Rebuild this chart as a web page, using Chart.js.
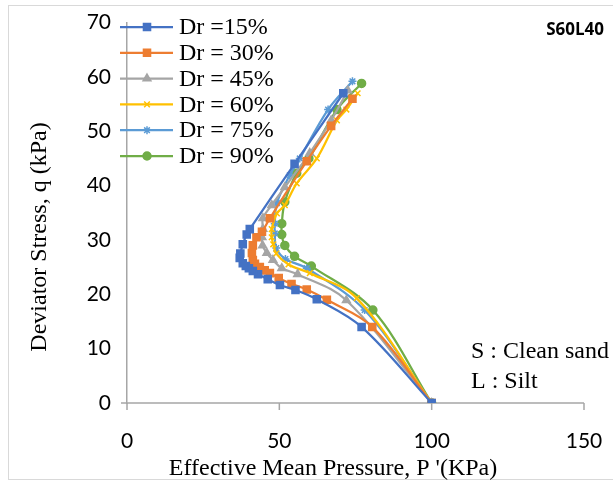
<!DOCTYPE html>
<html>
<head>
<meta charset="utf-8">
<script src="https://cdn.jsdelivr.net/npm/chart.js@4.4.0/dist/chart.umd.min.js"></script>
<style>
  html, body { margin: 0; padding: 0; background: #fff; }
  #wrap { width: 613px; height: 484px; position: relative; }
</style>
</head>
<body>
<div id="wrap"><canvas id="myChart" width="613" height="484"></canvas></div>
<script>
// series labels (relative density)
var labels = ['Dr =15%', 'Dr = 30%', 'Dr = 45%', 'Dr = 60%', 'Dr = 75%', 'Dr = 90%'];

// effective mean pressure p' (kPa) for each series
var p15 = [100, 77, 62.3, 55.3, 50.2, 46.2, 43, 41.3, 40, 39, 38, 37, 37.2, 38, 39.3, 40.3, 55, 71];
var p30 = [100, 80.5, 65.6, 59, 54, 49.8, 46.9, 45.2, 43.6, 42, 41.3, 41, 41.3, 42.5, 44.3, 46.9, 59, 67, 74];
var p45 = [100, 72, 56, 50.8, 47.9, 45.9, 44.5, 44.3, 44.6, 44.6, 47.5, 51.8, 60, 67, 72.5];
var p60 = [100, 75.4, 60, 53, 49, 48, 47.5, 47.5, 49.2, 51.8, 55.7, 62.3, 68.9, 72, 75.7];
var p75 = [100, 78, 59, 52, 49, 48.5, 48.5, 49.2, 53.4, 56.7, 66, 74];
var p90 = [100, 80.7, 60.5, 55, 51.8, 50.8, 50.8, 51.8, 55.7, 59.7, 68.9, 77];

// deviator stress q (kPa) for each series
var q15 = [0, 14, 19.1, 20.8, 21.7, 22.8, 23.7, 24.3, 24.8, 25.2, 25.7, 26.7, 27.5, 29.2, 31, 32, 44, 57];
var q30 = [0, 14, 19, 20.9, 21.9, 23, 23.9, 24.4, 25, 25.6, 26.3, 27.6, 29, 30.5, 31.5, 34, 44.5, 51, 56];
var q45 = [0, 18.9, 23.7, 24.8, 26.3, 27.6, 29, 30.5, 32, 34, 36.4, 39.7, 46, 52, 57.5];
var q60 = [0, 19.3, 23.9, 25.5, 27.5, 29.2, 30.5, 32, 34.9, 36.4, 40.4, 45, 52, 54, 57];
var q75 = [0, 17.1, 24.8, 26.5, 28.5, 31.2, 33, 36.8, 41.9, 45, 54, 59.2];
var q90 = [0, 17.1, 25.2, 27, 29, 31, 33, 37, 42.3, 45, 54, 58.8];

var xTicks = [0, 50, 100, 150];
var yTicks = [0, 10, 20, 30, 40, 50, 60, 70];

var colors = ['#4472C4', '#ED7D31', '#A5A5A5', '#FFC000', '#5B9BD5', '#70AD47'];
var markers = ['rect', 'rect', 'triangle', 'crossRot', 'star', 'circle'];
var sizes = [5, 5, 4.5, 4, 4, 4];

function pts(xs, ys) {
  return xs.map(function (x, i) { return { x: x, y: ys[i] }; });
}
var allX = [p15, p30, p45, p60, p75, p90];
var allY = [q15, q30, q45, q60, q75, q90];

var datasets = labels.map(function (lab, i) {
  return {
    label: lab,
    data: pts(allX[i], allY[i]),
    showLine: true,
    tension: 0.35,
    borderColor: colors[i],
    backgroundColor: colors[i],
    borderWidth: 2.25,
    pointStyle: markers[i],
    pointRadius: sizes[i],
    pointBorderWidth: 1.5,
    pointBorderColor: colors[i],
    pointBackgroundColor: colors[i]
  };
});

// draws legend, axis titles, notes and the outer frame
var extras = {
  id: 'extras',
  afterDraw: function (chart) {
    var ctx = chart.ctx;
    ctx.save();
    // frame
    ctx.strokeStyle = '#d9d9d9';
    ctx.lineWidth = 1;
    ctx.strokeRect(8.5, 5.5, 610, 474);

    // legend
    labels.forEach(function (lab, i) {
      var y = 27 + i * 25.8;
      ctx.strokeStyle = colors[i];
      ctx.lineWidth = 2.25;
      ctx.beginPath();
      ctx.moveTo(120, y);
      ctx.lineTo(173, y);
      ctx.stroke();
      ctx.fillStyle = colors[i];
      ctx.strokeStyle = colors[i];
      ctx.lineWidth = 1.5;
      Chart.helpers.drawPoint(ctx, { pointStyle: markers[i], radius: sizes[i], rotation: 0, borderWidth: 1.5 }, 147, y);
      ctx.fillStyle = '#000';
      ctx.font = '24px "Liberation Serif"';
      ctx.textBaseline = 'middle';
      ctx.textAlign = 'left';
      ctx.fillText(lab, 179, y + 1);
    });

    ctx.font = 'bold 17px "Open Sans"';
    ctx.textAlign = 'right';
    ctx.fillText('S60L40', 604, 30);

    ctx.font = '24px "Liberation Serif"';
    ctx.textAlign = 'left';
    ctx.fillText('S : Clean sand', 471, 352);
    ctx.fillText('L : Silt', 471, 382);

    // axis titles
    ctx.textAlign = 'center';
    ctx.fillText("Effective Mean Pressure, P '(KPa)", 333, 469);
    ctx.translate(40, 237);
    ctx.rotate(-Math.PI / 2);
    ctx.fillText('Deviator Stress, q (kPa)', 0, 0);
    ctx.restore();
  }
};

var ctx = document.getElementById('myChart').getContext('2d');
var myChart = new Chart(ctx, {
  type: 'scatter',
  data: { datasets: datasets },
  options: {
    responsive: false,
    animation: false,
    layout: { padding: { top: 22, right: 0, bottom: 0, left: 0 } },
    plugins: {
      legend: { display: false },
      tooltip: { enabled: false }
    },
    scales: {
      x: {
        type: 'linear',
        min: 0, max: 150,
        afterBuildTicks: function (s) { s.ticks = xTicks.map(function (v) { return { value: v }; }); },
        afterFit: function (s) { s.height = 81; s.paddingRight = 29; },
        grid: { display: false, drawTicks: true, tickLength: 7, color: '#a6a6a6' },
        border: { display: false },
        ticks: { color: '#000', font: { family: 'Lato', size: 21 }, padding: 19, maxRotation: 0 },
        title: { display: false }
      },
      y: {
        type: 'linear',
        min: 0, max: 70,
        afterBuildTicks: function (s) { s.ticks = yTicks.map(function (v) { return { value: v }; }); },
        afterFit: function (s) { s.width = 127; },
        grid: { display: false, drawTicks: true, tickLength: 6, color: '#a6a6a6' },
        border: { display: true, color: '#a6a6a6', width: 1.5 },
        ticks: { color: '#000', font: { family: 'Lato', size: 21 }, padding: 10 },
        title: { display: false }
      }
    }
  },
  plugins: [{
    id: 'xAxisLine',
    beforeDatasetsDraw: function (chart) {
      var c = chart.ctx, a = chart.chartArea, y0 = chart.scales.y.getPixelForValue(0);
      c.save();
      c.strokeStyle = '#a6a6a6';
      c.lineWidth = 1.5;
      c.beginPath();
      c.moveTo(a.left - 6, y0);
      c.lineTo(a.right, y0);
      c.stroke();
      xTicks.forEach(function (v) {
        var x = chart.scales.x.getPixelForValue(v);
        c.beginPath();
        c.moveTo(x, y0);
        c.lineTo(x, y0 + 7);
        c.stroke();
      });
      c.restore();
    }
  }, extras]
});
</script>
</body>
</html>
